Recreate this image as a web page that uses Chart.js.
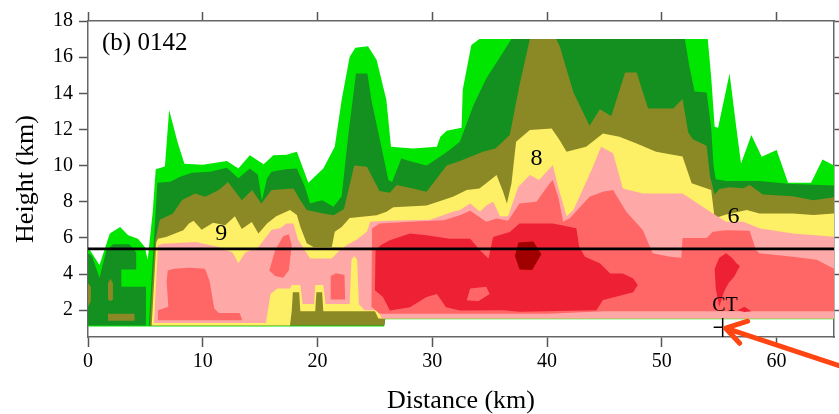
<!DOCTYPE html>
<html lang="en">
<head>
    <meta charset="UTF-8">
    <title>(b) 0142 - reflectivity cross-section</title>
    <script src="https://cdn.jsdelivr.net/npm/chart.js"></script>
    <style>
        body {
            margin: 0;
            background-color: white;
        }
        .chart-container {
            width: 839px;
            height: 414px;
        }
    </style>
</head>
<body>
    <div class="chart-container">
        <canvas id="xsecChart" width="839" height="414"></canvas>
    </div>

    <script>
        // axis ticks
        const xTicks = [0, 10, 20, 30, 40, 50, 60];
        const yTicks = [2, 4, 6, 8, 10, 12, 14, 16, 18];
        const meltLevel = 5.4; // km, horizontal reference line

        // contour outlines as [distance km, height km]
        // each region: upper edge left->right, lower edge left->right
        const lgTop = [[0,5.5],[1,4.5],[1.9,6.25],[2.8,6.6],[3.5,6.15],[4.35,5.95],[4.95,5.5],[5.2,4.8],[5.65,7.5],[5.9,9.8],[6.7,9.95],[7.07,13.07],[7.8,11.3],[8.4,10.1],[10,10.05],[12.1,10.25],[13.1,9.84],[14.1,10.58],[15.3,10.08],[16.15,10.58],[17.3,10.6],[18.2,10.77],[19.2,9.05],[20.5,9.84],[21.5,11.04],[22.1,13.63],[22.8,16.02],[23.3,16.52],[24.4,16.6],[25.15,15.84],[26,13.63],[26.4,11.04],[28.3,10.95],[30.4,11.04],[30.7,11.6],[31.25,11.93],[32.55,12.1],[32.65,14.2],[33.4,16.67],[34.1,17],[54,17],[54.3,14.9],[54.6,12.15],[54.9,12.1],[55.9,15.1],[56.5,12.06],[56.9,10.12],[57.8,11.69],[58.7,10.49],[60,10.86],[61,9.05],[63,9.05],[64,10.34],[65,10]];
        const lgBot = [[0,1.1],[25.8,1.1],[25.9,1.5],[65,1.5]];

        const dgLeftTop = [[0,5.15],[0.35,5.0],[1.0,3.8],[1.6,5.3],[2.2,5.65],[3.6,5.65],[4.2,5.2],[4.2,4.25],[2.9,4.25],[2.9,3.3],[5.05,3.3],[5.05,1.16]];
        const dgLeftBot = [[0,1.16],[5.05,1.16]];
        const dgTop = [[5.3,1.16],[5.85,7.0],[6.05,9.05],[7.16,9.11],[8.03,9.38],[9.05,9.6],[10.65,9.66],[12.1,9.88],[13.1,9.3],[14.1,9.84],[14.8,9.5],[15.15,8.05],[15.6,9.3],[16.0,9.66],[17.2,9.8],[18.2,9.84],[18.9,8.83],[19.35,7.91],[20.4,8.09],[21.4,7.72],[22.1,8.3],[22.7,11.8],[23.35,15.1],[24.34,15.1],[24.7,13.6],[25.44,11.4],[26.17,9.2],[26.5,9.1],[27.3,10.4],[28.3,10.2],[29.5,10.0],[30.7,10.5],[31.5,10.86],[32.4,11.32],[33.6,13.35],[34.7,14.82],[36.2,16.3],[36.9,17],[52,17],[52.4,15.48],[52.85,14.1],[53.9,14.05],[54.3,12.1],[54.5,10.0],[54.7,9.25],[55.6,9.15],[58.5,9.15],[61,9.0],[65,8.9]];
        const dgBot = [[5.3,1.16],[25.8,1.16],[25.9,1.55],[65,1.55]];

        const olTop = [[5.4,1.16],[5.85,5.8],[6.25,7.0],[7.4,7.35],[8.2,8.1],[9.34,8.46],[10.2,8.28],[11.4,8.65],[12.2,9.1],[13.4,8.09],[14.3,8.65],[15.1,7.9],[16.0,8.65],[17.9,8.74],[18.5,8.09],[19.06,7.54],[20.5,7.35],[21.4,7.26],[22.3,7.6],[23.2,10.0],[24.3,9.94],[25.4,8.6],[26.3,8.5],[26.9,8.93],[28.3,8.74],[29.5,8.56],[31.25,10.0],[32.4,10.25],[34.4,10.77],[35.5,10.95],[36.75,11.7],[37.6,14.46],[38.5,17],[40.8,17],[41.1,16.6],[42.3,14.04],[43.7,12.2],[44.6,13.12],[45.6,12.75],[46.8,15.15],[47.8,15.15],[48.8,13.16],[51.0,13.16],[51.8,13.68],[52.3,11.83],[52.7,11.46],[53.9,11.1],[54.2,9.4],[54.6,8.4],[55.0,8.7],[55.9,8.8],[57.1,8.75],[57.65,8.93],[58.8,8.4],[61.4,8.3],[63.2,8.09],[65,8.25]];
        const olBot = [[5.4,1.16],[25.8,1.16],[25.9,1.55],[65,1.55]];
        const olBitATop = [[0,3.5],[0.25,3.3]];
        const olBitABot = [[0,2.2],[0.25,2.5]];
        const olBitBTop = [[1.74,3.5],[1.95,3.74],[2.17,3.5]];
        const olBitBBot = [[1.74,2.6],[1.95,2.5],[2.17,2.6]];
        const olBitCTop = [[1.74,1.8],[4.06,1.8]];
        const olBitCBot = [[1.74,1.42],[4.06,1.42]];

        const yeTop = [[5.55,1.16],[5.95,5.75],[6.1,5.96],[6.8,6.05],[8.3,6.42],[8.8,6.8],[9.2,6.95],[9.9,6.45],[10.9,6.84],[11.95,6.7],[12.8,7.2],[13.4,6.5],[14.27,6.88],[14.85,6.25],[15.6,6.8],[16.4,7.2],[17.6,7.55],[18.2,7.27],[18.5,6.62],[19.06,5.7],[19.64,5.5],[21.24,5.5],[21.5,6.34],[22.1,6.6],[22.8,7.1],[24.3,7.2],[25.15,7.26],[26.0,7.45],[26.6,7.7],[29.5,7.8],[31.8,8.28],[33.0,8.65],[34.1,8.74],[34.7,9.02],[35.6,9.48],[36.17,8.56],[36.5,7.91],[36.9,9.02],[37.3,11.32],[38.5,11.97],[40.4,12.06],[41.1,11.41],[41.7,10.77],[43.4,11.04],[44.87,11.78],[46.3,11.6],[47.8,11.23],[49.5,10.77],[51.8,10.5],[52.6,9.02],[54.3,8.65],[54.6,7.09],[55.6,7.3],[57.4,7.55],[58.5,7.35],[61.4,7.35],[63.2,7.27],[65,7.35]];
        const yeBot = [[5.55,1.16],[17.6,1.16],[17.75,1.95],[17.85,3.0],[18.4,3.0],[18.5,1.95],[19.8,1.95],[19.9,3.0],[20.4,3.0],[20.5,1.95],[25.0,1.95],[25.3,1.55],[65,1.55]];

        const pkTop = [[5.75,1.3],[6.1,5.6],[6.5,5.68],[9.4,5.77],[11.37,5.5],[12.6,5.2],[13.1,4.6],[13.7,5.2],[14.85,5.5],[16.0,6.45],[16.74,6.53],[17.3,6.8],[17.9,6.8],[18.3,5.9],[18.8,5.4],[19.35,4.86],[21.24,4.86],[21.96,5.33],[22.54,5.6],[23.4,5.9],[24.3,6.34],[24.6,6.9],[26.0,6.95],[29.8,7.0],[31.8,7.45],[32.4,7.54],[33.3,7.91],[34.15,7.45],[34.7,7.8],[35.3,8.0],[35.9,7.2],[36.6,7.2],[37.5,8.83],[38.5,9.48],[39.3,9.2],[40.5,10.03],[40.96,8.83],[41.7,7.2],[42.3,7.55],[44.0,9.94],[44.7,11.04],[45.75,10.68],[46.6,8.74],[48.35,8.46],[51.8,8.46],[54.45,7.35],[55.6,6.9],[57.1,6.9],[58.5,6.53],[61.4,6.25],[65,6.07]];
        const pkBot = [[5.75,1.3],[15.5,1.3],[15.9,2.9],[16.5,3.2],[17.6,3.2],[17.75,3.4],[18.5,3.4],[18.7,2.35],[19.7,2.35],[19.8,3.4],[20.5,3.4],[20.7,2.35],[22.8,2.35],[22.95,4.8],[23.2,5.0],[23.45,4.8],[23.6,2.35],[24.1,2.0],[25.3,2.0],[25.6,1.55],[65,1.55]];

        const saLeftTop = [[6.1,1.45],[6.1,2.0],[7.0,2.2],[6.85,3.6],[6.95,4.2],[7.5,4.3],[8.85,4.35],[10.2,4.3],[10.6,3.6],[11.0,2.1],[11.4,1.85],[13.2,1.85],[13.4,1.55]];
        const saLeftBot = [[6.1,1.45],[13.4,1.45]];
        const saMidTop = [[15.8,4.2],[16.3,5.3],[17.0,6.1],[17.5,6.2],[17.75,5.6]];
        const saMidBot = [[15.8,4.2],[16.3,3.9],[17.0,3.8],[17.5,4.2],[17.75,5.6]];
        const saSmallTop = [[21.1,2.6],[21.15,3.9],[21.6,4.05],[22.35,3.95],[22.4,2.6]];
        const saSmallBot = [[21.1,2.6],[22.4,2.6]];
        const saMainTop = [[24.7,2.2],[24.75,6.52],[25.4,6.8],[28.05,6.9],[31.0,6.98],[32.4,7.26],[33.3,7.5],[34.7,6.9],[35.6,7.08],[36.6,6.95],[37.6,7.9],[39.07,8.0],[40.2,9.0],[40.5,9.2],[41.0,8.2],[41.4,6.9],[42.0,7.1],[43.7,8.28],[44.87,8.56],[45.75,8.65],[46.9,7.45],[48.35,6.43],[49.2,5.15],[50.7,4.96],[51.7,4.9],[51.8,6.0],[53.9,6.0],[54.45,6.34],[55.6,6.43],[57.65,6.4],[58.2,5.33],[58.5,5.15],[61.4,4.96],[63.5,4.8],[65,4.3]];
        const saMainBot = [[24.7,2.2],[25.4,1.8],[40,1.8],[45,1.95],[65,1.95]];
        const saHoleTop = [[33.0,2.55],[33.3,3.2],[34.7,3.3],[35.0,2.9]];
        const saHoleBot = [[33.0,2.55],[34.0,2.5],[35.0,2.9]];

        const rdTop = [[25.0,3.1],[25.05,5.3],[25.5,5.6],[26.3,5.87],[28.05,6.24],[29.5,6.15],[31.5,5.95],[33.3,5.95],[34.15,5.32],[34.9,4.86],[35.3,6.05],[36.75,6.33],[37.6,6.8],[40.5,6.8],[42.55,6.53],[42.8,5.5],[43.3,4.96],[44.6,4.6],[45.5,4.03],[46.6,4.03],[47.5,3.76],[47.9,3.4]];
        const rdBot = [[25.0,3.1],[25.7,2.73],[26.3,1.99],[28.05,2.17],[29.5,2.73],[30.4,2.9],[31.2,2.17],[32.4,1.99],[36.2,2.0],[37.6,1.91],[44.3,2.0],[44.87,2.56],[46.0,2.75],[47.5,3.0],[47.9,3.4]];
        const rdCtTop = [[54.6,4.3],[55.0,4.9],[55.6,5.15],[56.1,4.9],[56.5,4.6],[56.8,4.45]];
        const rdCtBot = [[54.6,4.3],[54.7,3.2],[55.0,2.2],[55.4,3.0],[55.8,3.5],[56.3,3.85],[56.8,4.45]];
        const rdSliverTop = [[56.6,2.0],[57.2,2.2],[57.8,1.95]];
        const rdSliverBot = [[56.6,2.0],[57.2,1.9],[57.8,1.95]];

        const drTop = [[37.2,5.0],[37.5,5.75],[38.8,5.8],[39.5,5.1]];
        const drBot = [[37.2,5.0],[37.6,4.25],[38.7,4.22],[39.5,5.1]];

        // annotations
        const panelLabel = '(b) 0142';
        const contourNotes = [['9', 11.6, 6.23], ['8', 39.08, 10.38], ['6', 56.25, 7.15]];
        const ctLabel = ['CT', 55.5, 2.27];
        const ctSite = [55.3, 1.06];

        const serif = "'Liberation Serif', 'Times New Roman', Times, serif";
        const C_LG = '#00e600', C_DG = '#13901f', C_OL = '#8b8925', C_YE = '#fdef66',
              C_PK = '#ffa8a8', C_SA = '#ff6666', C_RD = '#ee2033', C_DR = '#a00000';

        // drawn bottom to top
        const layers = [
            [lgTop, lgBot, C_LG],
            [dgLeftTop, dgLeftBot, C_DG],
            [dgTop, dgBot, C_DG],
            [olTop, olBot, C_OL],
            [olBitATop, olBitABot, C_OL],
            [olBitBTop, olBitBBot, C_OL],
            [olBitCTop, olBitCBot, C_OL],
            [yeTop, yeBot, C_YE],
            [pkTop, pkBot, C_PK],
            [saLeftTop, saLeftBot, C_SA],
            [saMidTop, saMidBot, C_SA],
            [saSmallTop, saSmallBot, C_SA],
            [saMainTop, saMainBot, C_SA],
            [rdTop, rdBot, C_RD],
            [saHoleTop, saHoleBot, C_SA],
            [rdCtTop, rdCtBot, C_RD],
            [rdSliverTop, rdSliverBot, C_RD],
            [drTop, drBot, C_DR]
        ];

        function outline(top, bot) {
            return top.concat(bot.slice().reverse()).map(p => ({x: p[0], y: p[1]}));
        }

        const datasets = layers.map((l, i) => ({
            data: outline(l[0], l[1]),
            backgroundColor: l[2],
            borderWidth: 0,
            pointRadius: 0,
            fill: 'shape',
            tension: 0,
            order: layers.length - i + 1
        }));
        datasets.push({
            data: [{x: 0, y: meltLevel}, {x: 65, y: meltLevel}],
            borderColor: '#000',
            borderWidth: 2.8,
            pointRadius: 0,
            fill: false,
            order: 0
        });

        const notesPlugin = {
            id: 'notes',
            afterDatasetsDraw(chart) {
                const {ctx, scales: {x, y}} = chart;
                ctx.save();
                ctx.fillStyle = '#000';
                ctx.textBaseline = 'middle';
                ctx.textAlign = 'left';
                ctx.font = '25px ' + serif;
                ctx.fillText(panelLabel, x.getPixelForValue(1.22), y.getPixelForValue(16.77));
                ctx.textAlign = 'center';
                ctx.font = '24px ' + serif;
                contourNotes.forEach(([t, dx, dy]) => {
                    ctx.fillText(t, x.getPixelForValue(dx), y.getPixelForValue(dy));
                });
                ctx.font = '20px ' + serif;
                ctx.fillText(ctLabel[0], x.getPixelForValue(ctLabel[1]), y.getPixelForValue(ctLabel[2]));
                ctx.restore();
            },
            afterDraw(chart) {
                const {ctx, scales: {x, y}} = chart;
                const px = x.getPixelForValue(ctSite[0]);
                const py = y.getPixelForValue(ctSite[1]);
                ctx.save();
                // site marker
                ctx.strokeStyle = '#000';
                ctx.lineWidth = 1.5;
                ctx.beginPath();
                ctx.moveTo(px, y.getPixelForValue(1.57));
                ctx.lineTo(px, y.bottom);
                ctx.moveTo(px - 9, py);
                ctx.lineTo(px, py);
                ctx.stroke();
                // arrow
                ctx.strokeStyle = '#ff4512';
                ctx.lineWidth = 5;
                ctx.lineCap = 'round';
                ctx.lineJoin = 'round';
                ctx.beginPath();
                ctx.moveTo(px + 130, py + 43);
                ctx.lineTo(px + 3, py + 1);
                ctx.moveTo(px + 25, py - 6);
                ctx.lineTo(px + 3, py + 1);
                ctx.lineTo(px + 17, py + 16);
                ctx.stroke();
                ctx.restore();
            }
        };

        const axisLine = {color: '#666', width: 1.5};
        const tickMarks = (len) => ({drawOnChartArea: false, drawTicks: true, tickLength: len, tickColor: '#555', tickWidth: 1.5});

        new Chart(document.getElementById('xsecChart'), {
            type: 'line',
            data: {datasets: datasets},
            options: {
                responsive: false,
                animation: false,
                events: [],
                layout: {padding: 0},
                plugins: {
                    legend: {display: false},
                    tooltip: {enabled: false}
                },
                scales: {
                    x: {
                        type: 'linear',
                        position: 'bottom',
                        min: 0,
                        max: 65,
                        afterBuildTicks: s => { s.ticks = xTicks.map(v => ({value: v})); },
                        afterFit: s => { s.height = 77; },
                        grid: tickMarks(10),
                        border: axisLine,
                        ticks: {color: '#000', font: {family: serif, size: 20}, padding: 3, maxRotation: 0},
                        title: {display: true, text: 'Distance (km)', color: '#000',
                                font: {family: serif, size: 26, lineHeight: 1.0}, padding: {top: 0, bottom: 0}}
                    },
                    xTop: {
                        type: 'linear',
                        position: 'top',
                        min: 0,
                        max: 65,
                        afterBuildTicks: s => { s.ticks = xTicks.map(v => ({value: v})); },
                        afterFit: s => { s.height = 21; },
                        grid: tickMarks(9),
                        border: axisLine,
                        ticks: {display: false}
                    },
                    y: {
                        type: 'linear',
                        position: 'left',
                        min: 0.52,
                        max: 18,
                        afterBuildTicks: s => { s.ticks = yTicks.map(v => ({value: v})); },
                        afterFit: s => { s.width = 88; },
                        grid: tickMarks(9),
                        border: axisLine,
                        ticks: {color: '#000', font: {family: serif, size: 20}, padding: 6},
                        title: {display: true, text: 'Height (km)', color: '#000',
                                font: {family: serif, size: 26, lineHeight: 1.0}, padding: {top: 13, bottom: 0}}
                    },
                    yRight: {
                        type: 'linear',
                        position: 'right',
                        min: 0.52,
                        max: 18,
                        afterBuildTicks: s => { s.ticks = yTicks.map(v => ({value: v})); },
                        afterFit: s => { s.width = 5; },
                        grid: tickMarks(7),
                        border: axisLine,
                        ticks: {display: false}
                    }
                }
            },
            plugins: [notesPlugin]
        });
    </script>
</body>
</html>
